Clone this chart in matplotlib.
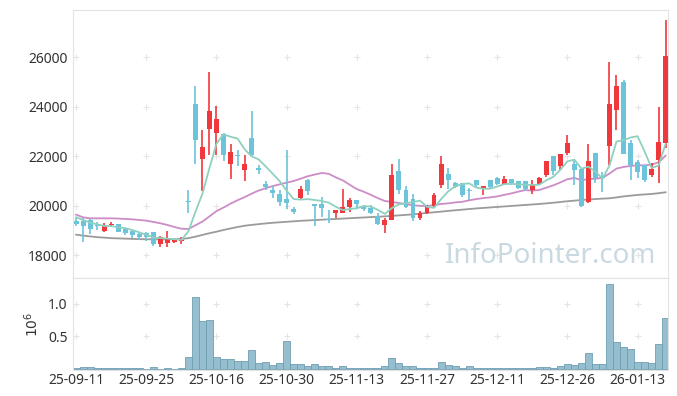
import numpy as np
import pandas as pd
import matplotlib
matplotlib.use('Agg')
import matplotlib.pyplot as plt

plt.rcParams['font.family'] = ['Noto Sans', 'DejaVu Sans']

# %% data (one entry per trading day)
dates = ['25-09-11', '25-09-25', '25-10-16', '25-10-30', '25-11-13',
         '25-11-27', '25-12-11', '25-12-26', '26-01-13']

open_ = [19406, 19394, 19434, 19232, 18978, 19232, 19273, 19071, 18969, 18869,
         18900, 18937, 18465, 18520, 18545, 18600, 20190, 24121, 21911, 23123,
         22961, 22909, 21709, 22050, 21454, 22735, 21547, 20889, 20646, 20473,
         20271, 19879, 20335, 21050, 20081, 20081, 19463, 19729, 19729, 19972,
         20242, 20000, 19907, 19596, 19245, 19434, 21414, 20646, 20271, 19503,
         19705, 20000, 20848, 21293, 20917, 20917, 20640, 21050, 20699, 21050,
         21143, 20889, 21078, 21010, 21010, 20646, 20889, 21252, 22020, 21628,
         22153, 21685, 21495, 20174, 22129, 21212, 22436, 23891, 25022, 22533,
         21790, 21644, 21264, 21870, 22557]
high = [19515, 19527, 19460, 19354, 19327, 19340, 19290, 19090, 19000, 18920,
        18930, 18950, 18800, 18990, 18680, 18735, 20646, 24848, 23058, 25426,
        24040, 22950, 22493, 22262, 22060, 23826, 21656, 21022, 20808, 20646,
        22262, 19972, 20808, 21091, 20081, 20376, 19838, 19840, 20675, 20311,
        20250, 20040, 20040, 19705, 19503, 21697, 21887, 20808, 20473, 19798,
        20020, 20537, 22020, 21523, 20982, 20941, 20715, 21060, 20820, 21060,
        21150, 21212, 21090, 21020, 21020, 21050, 21184, 21830, 22030, 22110,
        22868, 21887, 21500, 22493, 22130, 21386, 25805, 25292, 25090, 22666,
        21858, 21650, 21725, 24012, 27514]
low = [19192, 18557, 18868, 19030, 18950, 19160, 18930, 18828, 18700, 18626,
       18600, 18400, 18330, 18330, 18520, 18465, 19730, 21697, 20618, 22060,
       22060, 21818, 21091, 21616, 21010, 21990, 21293, 20646, 20311, 20000,
       19879, 19677, 20242, 20444, 19192, 19568, 19325, 19503, 19700, 19770,
       19907, 19810, 19677, 19240, 18897, 19434, 20473, 19907, 19406, 19434,
       19690, 19972, 20715, 20687, 20715, 20376, 20242, 20740, 20444, 20715,
       20830, 20848, 20848, 20687, 20592, 20473, 20848, 21184, 21252, 21454,
       22060, 20848, 19947, 20133, 20917, 20578, 21656, 23070, 22101, 21050,
       21119, 20982, 21184, 20917, 22331]
close = [19285, 19204, 19057, 19192, 19220, 19273, 18941, 18897, 18808, 18760,
         18760, 18453, 18735, 18707, 18626, 18640, 20160, 22679, 22371, 23838,
         23515, 22073, 22182, 22010, 21685, 22073, 21454, 20780, 20537, 20174,
         20133, 19770, 20675, 20618, 20012, 19931, 19434, 19838, 19947, 20242,
         20069, 19891, 19729, 19273, 19434, 21252, 20646, 19947, 19503, 19729,
         20000, 20444, 21697, 21050, 20780, 20444, 20600, 20848, 20808, 20780,
         20889, 21078, 20917, 20715, 20687, 20848, 21119, 21818, 21414, 22101,
         22557, 21454, 20000, 21818, 21119, 21119, 24109, 24848, 22101, 21644,
         21386, 21050, 21495, 22573, 26060]
volume = [0.02, 0.03, 0.03, 0.015, 0.015, 0.015, 0.015, 0.015, 0.015, 0.015,
          0.005, 0.03, 0.005, 0.015, 0.005, 0.015, 0.18, 1.1, 0.73, 0.75,
          0.18, 0.15, 0.15, 0.12, 0.12, 0.29, 0.09, 0.1, 0.06, 0.09,
          0.43, 0.07, 0.07, 0.04, 0.07, 0.04, 0.04, 0.02, 0.05, 0.02,
          0.02, 0.02, 0.02, 0.02, 0.04, 0.17, 0.09, 0.04, 0.04, 0.02,
          0.02, 0.02, 0.1, 0.06, 0.04, 0.02, 0.04, 0.02, 0.02, 0.02,
          0.02, 0.02, 0.02, 0.02, 0.02, 0.02, 0.03, 0.03, 0.02, 0.05,
          0.07, 0.06, 0.09, 0.25, 0.07, 0.07, 1.3, 0.42, 0.33, 0.3,
          0.1, 0.1, 0.09, 0.38, 0.78]

# moving averages need history before the window -> read those parts off the chart
ma5_head = [19543, 19434, 19325, 19260]
ma20_head = [19650, 19540, 19500, 19500, 19500, 19500, 19490, 19475, 19460, 19434,
             19406, 19354, 19300, 19232, 19150, 19080, 19070, 19220, 19370]
ma60 = [18840, 18800, 18770, 18740, 18720, 18700, 18690, 18680, 18670, 18660,
        18655, 18650, 18650, 18650, 18655, 18665, 18700, 18760, 18830, 18900,
        18960, 19030, 19090, 19150, 19200, 19235, 19265, 19295, 19320, 19340,
        19360, 19380, 19400, 19415, 19430, 19445, 19460, 19475, 19490, 19505,
        19520, 19535, 19550, 19565, 19580, 19600, 19620, 19640, 19660, 19690,
        19720, 19745, 19770, 19800, 19825, 19850, 19875, 19900, 19920, 19940,
        19960, 19980, 20000, 20020, 20040, 20060, 20080, 20105, 20130, 20160,
        20190, 20215, 20240, 20260, 20280, 20295, 20310, 20345, 20385, 20415,
        20445, 20465, 20485, 20515, 20553]

# %%
df = pd.DataFrame({'open': open_, 'high': high, 'low': low, 'close': close, 'vol': volume})
x = np.arange(len(df))
ma5 = df['close'].rolling(5).mean().values
ma5[:len(ma5_head)] = ma5_head
ma20 = df['close'].rolling(20).mean().values
ma20[:len(ma20_head)] = ma20_head

up_col = '#f0373c'
dn_col = '#6cc4da'
cols = [up_col if c > o else dn_col for o, c in zip(df['open'], df['close'])]

fig = plt.figure(figsize=(6.77, 3.96), dpi=100)
ax = fig.add_axes([0.1078, 0.298, 0.879, 0.677])
axv = fig.add_axes([0.1078, 0.066, 0.879, 0.232], sharex=ax)

# candles
ax.vlines(x, df['low'], df['high'], colors=cols, linewidth=1.2, zorder=3)
body_lo = np.minimum(df['open'], df['close'])
body_h = np.maximum(np.abs(df['close'] - df['open']), 40)
ax.bar(x, body_h, bottom=body_lo, width=0.7, color=cols, linewidth=0, zorder=4)

ax.plot(x, ma5, color='#8fd0c0', lw=1.3, zorder=5)
ax.plot(x, ma20, color='#cc8cc6', lw=1.3, zorder=2)
ax.plot(x, ma60, color='#9b9b9b', lw=1.3, zorder=2)

ax.text(0.803, 0.083, 'InfoPointer.com', transform=ax.transAxes, ha='center', va='center',
        fontsize=20, color='#c9d9e2', zorder=1)

yt = [18000, 20000, 22000, 24000, 26000]
xt = list(range(0, 81, 10))
ax.set_ylim(17090, 27920)
ax.set_yticks(yt)
ax.set_yticklabels([str(v) for v in yt])
gx, gy = np.meshgrid(xt, yt)
ax.scatter(gx.ravel(), gy.ravel(), marker='+', s=20, color='#e4e4e4', lw=0.8, zorder=0)

# volume
axv.bar(x, df['vol'], width=1.0, color='#95bfcf', edgecolor='#6f9fb3', linewidth=0.6)
axv.set_ylim(-0.015, 1.4)
axv.set_yticks([0.5, 1.0])
axv.set_yticklabels(['0.5', '1.0'])
gx, gy = np.meshgrid(xt, [0.5, 1.0])
axv.scatter(gx.ravel(), gy.ravel(), marker='+', s=20, color='#e4e4e4', lw=0.8, zorder=0)
axv.set_ylabel('$10^6$', fontsize=10, color='#333333', labelpad=4)
axv.set_xlim(-0.45, 84.35)
axv.set_xticks(xt)
axv.set_xticklabels(dates)

for a in (ax, axv):
    for s in a.spines.values():
        s.set_color('#e2e2e2')
    a.tick_params(length=0, labelsize=10, colors='#333333', pad=4)
ax.tick_params(labelbottom=False)
axv.tick_params(axis='x', pad=2)

fig.savefig('out.png', dpi=100)
